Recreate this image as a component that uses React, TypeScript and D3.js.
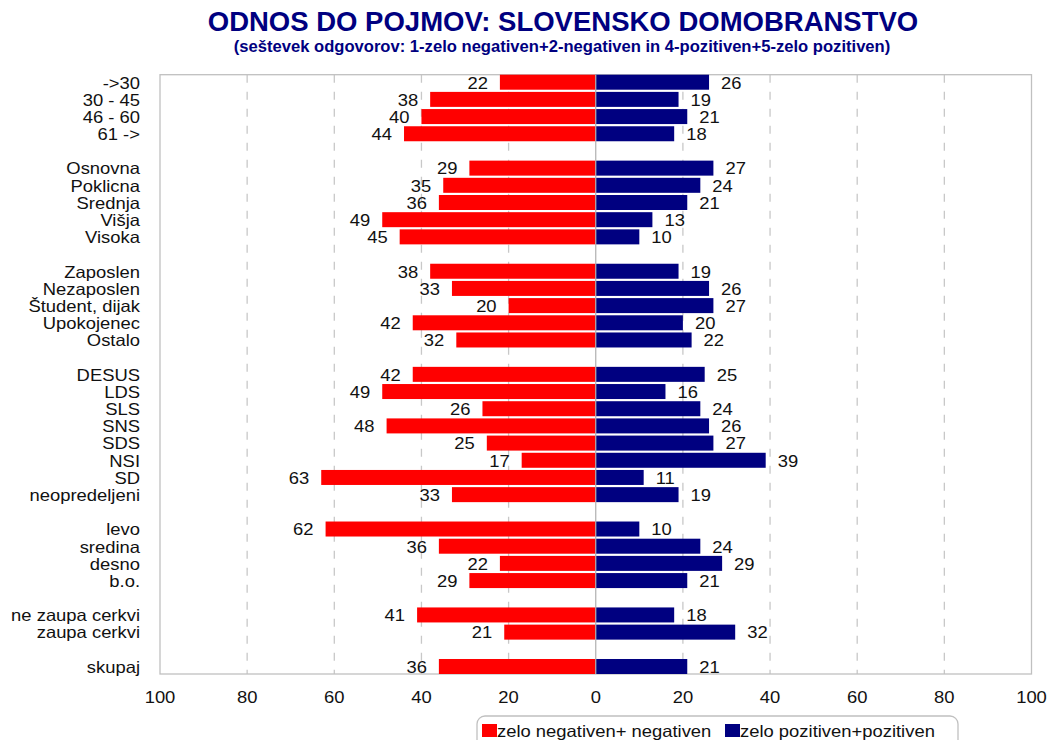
import React from "react";
import * as d3 from "d3";

const categories = [
  "->30", "30 - 45", "46 - 60", "61 ->", "",
  "Osnovna", "Poklicna", "Srednja", "Višja", "Visoka", "",
  "Zaposlen", "Nezaposlen", "Študent, dijak", "Upokojenec", "Ostalo", "",
  "DESUS", "LDS", "SLS", "SNS", "SDS", "NSI", "SD", "neopredeljeni", "",
  "levo", "sredina", "desno", "b.o.", "",
  "ne zaupa cerkvi", "zaupa cerkvi", "",
  "skupaj",
];
const negative: (number | null)[] = [
  22, 38, 40, 44, null,
  29, 35, 36, 49, 45, null,
  38, 33, 20, 42, 32, null,
  42, 49, 26, 48, 25, 17, 63, 33, null,
  62, 36, 22, 29, null,
  41, 21, null,
  36,
];
const positive: (number | null)[] = [
  26, 19, 21, 18, null,
  27, 24, 21, 13, 10, null,
  19, 26, 27, 20, 22, null,
  25, 16, 24, 26, 27, 39, 11, 19, null,
  10, 24, 29, 21, null,
  18, 32, null,
  21,
];
const xTicks = [-100, -80, -60, -40, -20, 0, 20, 40, 60, 80, 100];
const title = "ODNOS DO POJMOV: SLOVENSKO DOMOBRANSTVO";
const subtitle = "(seštevek odgovorov: 1-zelo negativen+2-negativen in 4-pozitiven+5-zelo pozitiven)";
const seriesNames = ["zelo negativen+ negativen", "zelo pozitiven+pozitiven"];
const seriesColors = ["#FF0000", "#000080"];

const FS = 16.3;
const SX = 1.13;

function T(props: { x: number; y: number; anchor?: "start" | "middle" | "end"; children: React.ReactNode }) {
  return (
    <text
      transform={`translate(${props.x},${props.y}) scale(${SX},1)`}
      textAnchor={props.anchor || "start"}
      fontSize={FS}
      fill="#111"
    >
      {props.children}
    </text>
  );
}

export default function App() {
  const W = 1048, H = 740;
  const left = 160, right = 1031.5, top = 74.7, bottom = 674;
  const font = "Arial, 'Liberation Sans', sans-serif";
  const x = d3.scaleLinear().domain([-100, 100]).range([left, right]);
  const y = d3.scaleBand<number>()
    .domain(categories.map((_, i) => i))
    .range([top, bottom])
    .paddingInner(0.127)
    .paddingOuter(0);
  const bw = y.bandwidth();
  const x0 = x(0);

  return (
    <svg width={W} height={H} style={{ position: "absolute", left: 0, top: 0, background: "#fff" }} fontFamily={font}>
      <text x={563} y={31} textAnchor="middle" fontSize={27.5} fontWeight="bold" fill="#000080">{title}</text>
      <text x={562} y={52} textAnchor="middle" fontSize={16.6} fontWeight="bold" fill="#000080">{subtitle}</text>

      {xTicks.filter(t => t !== 0 && Math.abs(t) !== 100).map(t => (
        <line key={"g" + t} x1={x(t)} x2={x(t)} y1={top} y2={bottom} stroke="#c8c8c8" strokeWidth={1.3} strokeDasharray="8,9" />
      ))}
      <rect x={left} y={top} width={right - left} height={bottom - top} fill="none" stroke="#c0c0c0" strokeWidth={1.3} />

      {categories.map((c, i) => {
        const yy = y(i)!;
        const n = negative[i];
        const p = positive[i];
        const ty = yy + bw / 2 + 6.3;
        return (
          <g key={"r" + i}>
            {n != null && (
              <rect x={x(-n)} y={yy} width={x0 - x(-n)} height={bw} fill={seriesColors[0]} />
            )}
            {p != null && (
              <rect x={x0} y={yy} width={x(p) - x0} height={bw} fill={seriesColors[1]} />
            )}
            {n != null && <T x={x(-n) - 12} y={ty} anchor="end">{n}</T>}
            {p != null && <T x={x(p) + 12} y={ty}>{p}</T>}
            {c && <T x={140} y={ty} anchor="end">{c}</T>}
          </g>
        );
      })}
      <line x1={x0} x2={x0} y1={top} y2={bottom} stroke="#b0b0b0" strokeWidth={1.2} />

      {xTicks.map(t => (
        <T key={"t" + t} x={x(t)} y={703} anchor="middle">{Math.abs(t)}</T>
      ))}

      <rect x={477} y={716} width={481} height={40} rx={8} ry={8} fill="#fff" stroke="#c0c0c0" strokeWidth={1.3} />
      <rect x={482} y={724} width={15} height={13} fill={seriesColors[0]} />
      <T x={497} y={737}>{seriesNames[0]}</T>
      <rect x={725} y={724} width={15} height={13} fill={seriesColors[1]} />
      <T x={740} y={737}>{seriesNames[1]}</T>
    </svg>
  );
}
